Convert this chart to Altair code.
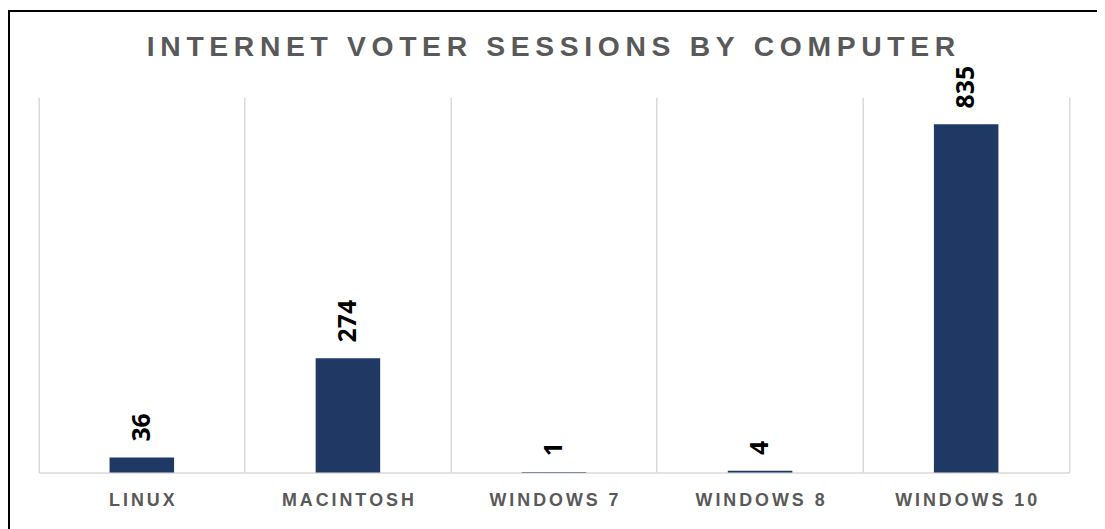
import altair as alt
import pandas as pd

categories = ["LINUX", "MACINTOSH", "WINDOWS 7", "WINDOWS 8", "WINDOWS 10"]
sessions = [36, 274, 1, 4, 835]
title_text = "INTERNET VOTER SESSIONS BY COMPUTER"


def spaced(s, sep="\u2009"):
    return sep.join(list(s))


display = [spaced(c, "\u200a\u200a") for c in categories]
df = pd.DataFrame({"os": display, "sessions": sessions})

W, H = 1038, 378

x_enc = alt.X(
    "os:N",
    sort=display,
    scale=alt.Scale(paddingInner=0, paddingOuter=0),
    axis=alt.Axis(
        title=None,
        labelAngle=0,
        ticks=False,
        grid=True,
        bandPosition=0,
        gridColor="#d9d9d9",
        gridWidth=1.5,
        domainColor="#d9d9d9",
        domainWidth=1.5,
        labelFont="Liberation Sans",
        labelFontSize=18,
        labelFontWeight="bold",
        labelColor="#595959",
        labelPadding=19,
        labelLimit=300,
    ),
)
y_enc = alt.Y(
    "sessions:Q",
    scale=alt.Scale(domain=[0, 900], nice=False),
    axis=alt.Axis(
        orient="right",
        title=None,
        labels=False,
        ticks=False,
        grid=False,
        domain=True,
        domainColor="#d9d9d9",
        domainWidth=1.5,
    ),
)

bars = alt.Chart(df).mark_bar(size=65, color="#1F3864").encode(x=x_enc, y=y_enc)

labels = alt.Chart(df).mark_text(
    angle=270,
    align="left",
    baseline="middle",
    dx=16,
    font="Open Sans",
    fontSize=25,
    fontWeight="bold",
    color="#000000",
).encode(x=alt.X("os:N", sort=display), y="sessions:Q", text="sessions:Q")

title = alt.Chart(alt.Data(values=[{"t": spaced(title_text, "\u2009")}])).mark_text(
    font="Liberation Sans",
    fontSize=28.5,
    fontWeight="bold",
    color="#595959",
    align="center",
    baseline="alphabetic",
).encode(x=alt.value(W / 2 - 3), y=alt.value(-42), text="t:N")

frame = alt.Chart(alt.Data(values=[{"a": 1}])).mark_rect(
    filled=False, stroke="#000000", strokeWidth=2
).encode(
    x=alt.value(-30), x2=alt.value(W + 200), y=alt.value(-87), y2=alt.value(H + 200)
)

chart = (
    alt.layer(bars, labels, title, frame)
    .properties(
        width=W,
        height=H,
        autosize=alt.AutoSizeParams(type="none"),
        padding={"left": 31, "top": 88, "right": 28, "bottom": 55},
    )
    .configure_view(stroke=None)
)

chart.save("out.html", embed_options={"renderer": "svg", "actions": False})
